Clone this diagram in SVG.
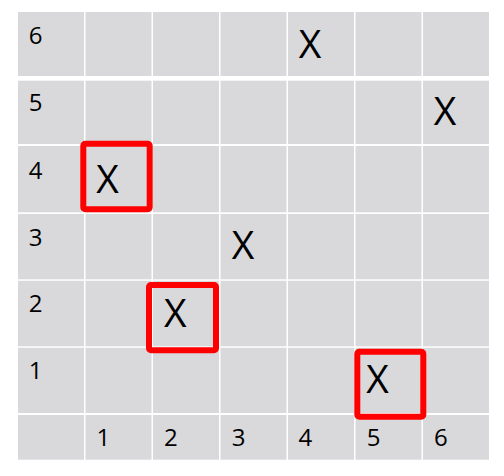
<svg xmlns="http://www.w3.org/2000/svg" width="504" height="476" viewBox="0 0 504 476">
<style>
.c{fill:#d9d8db}
.t{font-family:"Open Sans","Liberation Sans",sans-serif;font-size:24px;fill:#000;text-anchor:middle}
.x{font-family:"Open Sans","Liberation Sans",sans-serif;font-size:39px;fill:#000;text-anchor:middle}
.h{fill:none;stroke:#ff0000;stroke-width:6;}
</style>
<rect width="504" height="476" fill="#fff"/>
<g id="grid">
<g id="r6">
<rect class="c" x="18" y="12" width="66" height="64"/><rect class="c" x="85.5" y="12" width="66" height="64"/><rect class="c" x="153" y="12" width="66" height="64"/><rect class="c" x="220.5" y="12" width="66" height="64"/><rect class="c" x="288" y="12" width="66" height="64"/><rect class="c" x="355.5" y="12" width="66" height="64"/><rect class="c" x="423" y="12" width="66" height="64"/>
</g>
<g id="r5">
<rect class="c" x="18" y="80.7" width="66" height="63.3"/><rect class="c" x="85.5" y="80.7" width="66" height="63.3"/><rect class="c" x="153" y="80.7" width="66" height="63.3"/><rect class="c" x="220.5" y="80.7" width="66" height="63.3"/><rect class="c" x="288" y="80.7" width="66" height="63.3"/><rect class="c" x="355.5" y="80.7" width="66" height="63.3"/><rect class="c" x="423" y="80.7" width="66" height="63.3"/>
</g>
<g id="r4">
<rect class="c" x="18" y="146" width="66" height="66.3"/><rect class="c" x="85.5" y="146" width="66" height="66.3"/><rect class="c" x="153" y="146" width="66" height="66.3"/><rect class="c" x="220.5" y="146" width="66" height="66.3"/><rect class="c" x="288" y="146" width="66" height="66.3"/><rect class="c" x="355.5" y="146" width="66" height="66.3"/><rect class="c" x="423" y="146" width="66" height="66.3"/>
</g>
<g id="r3">
<rect class="c" x="18" y="214" width="66" height="65.3"/><rect class="c" x="85.5" y="214" width="66" height="65.3"/><rect class="c" x="153" y="214" width="66" height="65.3"/><rect class="c" x="220.5" y="214" width="66" height="65.3"/><rect class="c" x="288" y="214" width="66" height="65.3"/><rect class="c" x="355.5" y="214" width="66" height="65.3"/><rect class="c" x="423" y="214" width="66" height="65.3"/>
</g>
<g id="r2">
<rect class="c" x="18" y="280.8" width="66" height="65.5"/><rect class="c" x="85.5" y="280.8" width="66" height="65.5"/><rect class="c" x="153" y="280.8" width="66" height="65.5"/><rect class="c" x="220.5" y="280.8" width="66" height="65.5"/><rect class="c" x="288" y="280.8" width="66" height="65.5"/><rect class="c" x="355.5" y="280.8" width="66" height="65.5"/><rect class="c" x="423" y="280.8" width="66" height="65.5"/>
</g>
<g id="r1">
<rect class="c" x="18" y="347.8" width="66" height="65.2"/><rect class="c" x="85.5" y="347.8" width="66" height="65.2"/><rect class="c" x="153" y="347.8" width="66" height="65.2"/><rect class="c" x="220.5" y="347.8" width="66" height="65.2"/><rect class="c" x="288" y="347.8" width="66" height="65.2"/><rect class="c" x="355.5" y="347.8" width="66" height="65.2"/><rect class="c" x="423" y="347.8" width="66" height="65.2"/>
</g>
<g id="r0">
<rect class="c" x="18" y="415" width="66" height="44.7"/><rect class="c" x="85.5" y="415" width="66" height="44.7"/><rect class="c" x="153" y="415" width="66" height="44.7"/><rect class="c" x="220.5" y="415" width="66" height="44.7"/><rect class="c" x="288" y="415" width="66" height="44.7"/><rect class="c" x="355.5" y="415" width="66" height="44.7"/><rect class="c" x="423" y="415" width="66" height="44.7"/>
</g>
</g>
<g id="row-labels">
<text class="t" x="35.5" y="44">6</text>
<text class="t" x="35.5" y="111">5</text>
<text class="t" x="35.5" y="179">4</text>
<text class="t" x="35.5" y="245.7">3</text>
<text class="t" x="35.5" y="312.3">2</text>
<text class="t" x="35.5" y="379">1</text>
</g>
<g id="col-labels">
<text class="t" x="103.3" y="445.7">1</text>
<text class="t" x="170.8" y="445.7">2</text>
<text class="t" x="238.7" y="445.7">3</text>
<text class="t" x="305.3" y="445.7">4</text>
<text class="t" x="373.7" y="445.7">5</text>
<text class="t" x="440.8" y="445.7">6</text>
</g>
<g id="marks">
<text class="x" x="310" y="57.7">X</text>
<text class="x" x="445" y="125">X</text>
<text class="x" x="107.5" y="192.7">X</text>
<text class="x" x="243" y="259.3">X</text>
<text class="x" x="175.3" y="326.7">X</text>
<text class="x" x="377.5" y="393">X</text>
</g>
<g id="highlights">
<rect class="h" x="83.3" y="143.7" width="66.4" height="65.6" rx="2"/>
<rect class="h" x="149" y="285" width="67" height="65.3" rx="2"/>
<rect class="h" x="357.3" y="351.7" width="66" height="65" rx="2"/>
</g>
</svg>
